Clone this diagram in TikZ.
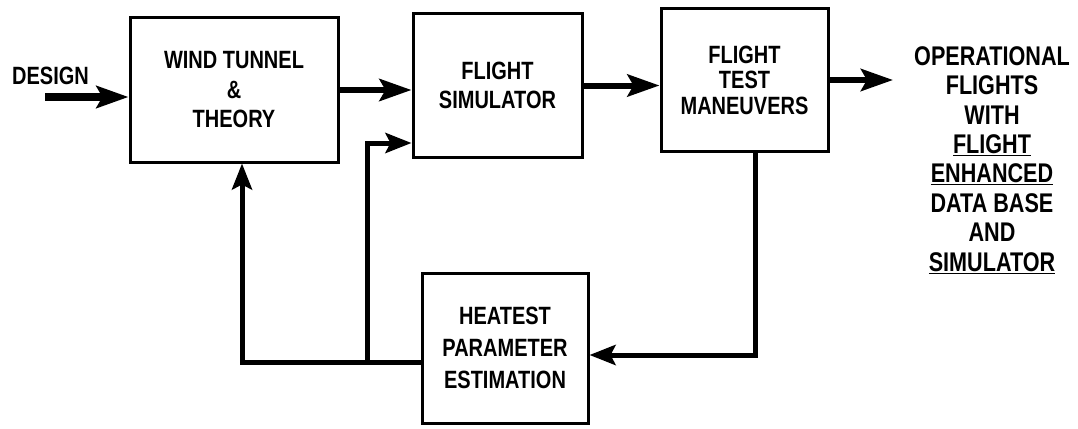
\documentclass[tikz,border=0pt]{standalone}
\usepackage{fontspec}
\newfontfamily\lf[FakeStretch=0.8]{Liberation Sans}
\usetikzlibrary{arrows.meta,calc}
\begin{document}
\begin{tikzpicture}[x=1pt,y=-1pt,
  box/.style={draw,line width=3pt,inner sep=0pt,align=center,
    font=\lf\bfseries\fontsize{25}{29.5}\selectfont},
  lbl/.style={inner sep=0pt,align=center,font=\lf\bfseries\fontsize{25}{29.5}\selectfont},
  conn/.style={line width=5pt},
  arr/.style={line width=6pt,-{Stealth[length=32pt,width=22pt,inset=6pt]}},
  fbarr/.style={line width=5pt,-{Stealth[length=26pt,width=20pt,inset=5pt]}},
]
\useasboundingbox (0,0) rectangle (1078,428);
\node[box,minimum width=208pt,minimum height=144pt] (wind) at (234,90) {WIND TUNNEL\\\&\\THEORY};
\node[box,minimum width=169pt,minimum height=143pt] (sim) at (497.5,85.5) {FLIGHT\\SIMULATOR};
\node[box,minimum width=167pt,minimum height=142pt,font=\lf\bfseries\fontsize{25}{25.5}\selectfont] (test) at (744.5,80) {FLIGHT\\TEST\\MANEUVERS};
\node[box,minimum width=166pt,minimum height=150pt,font=\lf\bfseries\fontsize{25}{32}\selectfont] (heat) at (505,348) {HEATEST\\PARAMETER\\ESTIMATION};
\node[lbl,anchor=west] (design) at (12,76) {DESIGN};
\node[lbl,font=\lf\bfseries\fontsize{27}{29.4}\selectfont] (out) at (992,160)
  {OPERATIONAL\\FLIGHTS\\WITH\\\underline{FLIGHT}\\\underline{ENHANCED}\\DATA BASE\\AND\\\underline{SIMULATOR}};
\coordinate (din) at (45,97);
\coordinate (outtip) at (893,80);
\coordinate (j) at (367,362);
% forward arrows
\draw[arr,line width=8pt] (din) -- ([yshift=-7pt]wind.west);
\draw[arr] (wind.east) -- (wind.east -| sim.west);
\draw[arr] (sim.east) -- (sim.east -| test.west);
\draw[arr] (test.east) -- (test.east -| outtip);
% feedback
\draw[fbarr] ([xshift=11pt]test.south) |- ([yshift=-7pt]heat.east);
\draw[fbarr] ([yshift=-14pt]heat.west) -| ([xshift=8pt]wind.south);
\draw[fbarr] (j) |- ([yshift=-57.5pt]sim.west);
\end{tikzpicture}
\end{document}
